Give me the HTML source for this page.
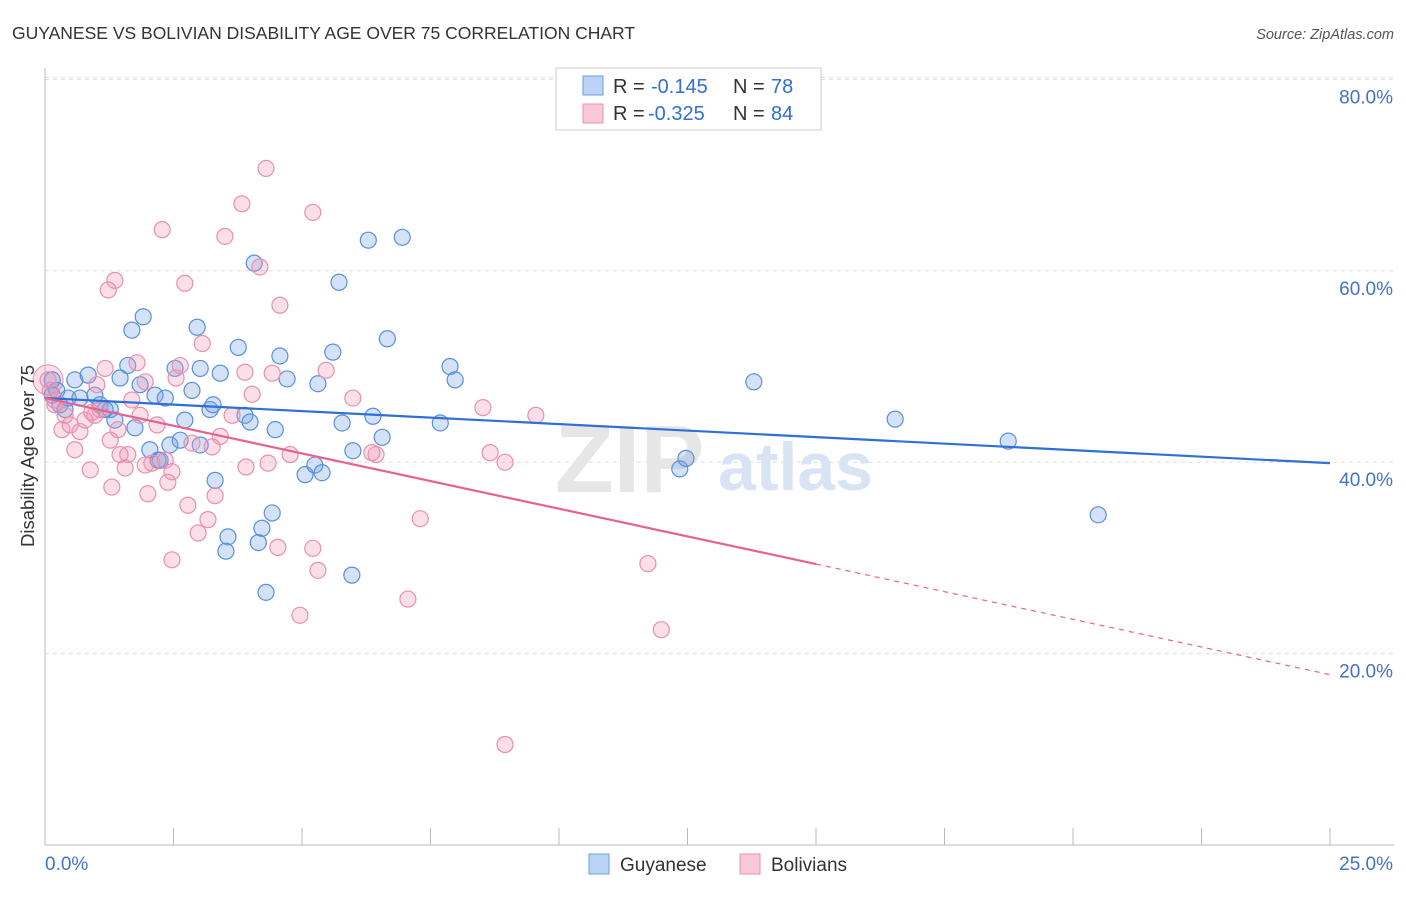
<!DOCTYPE html>
<html><head><meta charset="utf-8"><style>
body{margin:0;background:#fff;font-family:"Liberation Sans",sans-serif;}
svg text{font-family:"Liberation Sans",sans-serif;}
</style></head><body>
<svg id="chart" width="1406" height="892">
<text x="12" y="39" font-size="17.5" fill="#333">GUYANESE VS BOLIVIAN DISABILITY AGE OVER 75 CORRELATION CHART</text>
<text x="1394" y="39" font-size="14.5" fill="#555" font-style="italic" text-anchor="end">Source: ZipAtlas.com</text>
<g id="grid"></g>
<text x="555" y="492" font-size="96" fill="#e6e6e6" font-family="Liberation Serif" font-weight="bold">ZIP</text>
<text x="718" y="490" font-size="68" fill="#d8e4f4" font-weight="bold">atlas</text>
<g id="points"></g>
<g id="trends"></g>
<text transform="translate(34,456) rotate(-90)" font-size="18.5" fill="#333" text-anchor="middle">Disability Age Over 75</text>
<g>
<rect x="556" y="68" width="265" height="62" fill="#fff" stroke="#ccc"/>
<rect x="583" y="76" width="20" height="19" fill="#bcd3f5" stroke="#6a9de0"/>
<rect x="583" y="104" width="20" height="19" fill="#f8c8d8" stroke="#e890ad"/>
<text x="613" y="93" font-size="20" fill="#333">R =</text>
<text x="651" y="93" font-size="20" fill="#2f6fd6">-0.145</text>
<text x="733" y="93" font-size="20" fill="#333">N =</text>
<text x="771" y="93" font-size="20" fill="#2f6fd6">78</text>
<text x="613" y="120" font-size="20" fill="#333">R =</text>
<text x="648" y="120" font-size="20" fill="#2f6fd6">-0.325</text>
<text x="733" y="120" font-size="20" fill="#333">N =</text>
<text x="771" y="120" font-size="20" fill="#2f6fd6">84</text>
</g>
<g>
<rect x="589" y="854" width="20" height="20" fill="#bcd3f5" stroke="#6a9de0"/>
<text x="620" y="871" font-size="19" fill="#333">Guyanese</text>
<rect x="740" y="854" width="20" height="20" fill="#f8c8d8" stroke="#e890ad"/>
<text x="771" y="871" font-size="19" fill="#333">Bolivians</text>
</g>
</svg>
<script>
const yTicks=[20,40,60,80];
const yTickLabels=["20.0%","40.0%","60.0%","80.0%"];
const xTickLabels=["0.0%","25.0%"];
const guyX=[0.14,0.29,0.39,0.58,0.84,0.97,1.07,1.27,1.46,1.61,1.69,1.91,1.85,2.04,2.14,2.20,2.34,2.43,2.53,2.63,2.72,2.86,2.96,3.02,3.21,3.27,3.31,3.41,3.56,3.52,3.76,3.89,3.99,4.07,4.15,4.22,4.30,4.42,4.48,4.57,4.71,5.06,5.25,5.39,5.31,5.60,5.72,5.78,5.97,5.99,6.29,6.38,6.56,6.66,6.95,7.69,7.88,7.98,12.35,12.47,13.79,16.54,18.74,20.49,0.14,0.23,0.45,0.68,1.17,1.36,1.75,2.24,3.02];
const guyY=[47.0,46.0,45.5,48.6,49.1,47.0,46.0,45.5,48.8,50.1,53.8,55.2,48.1,41.3,47.0,40.2,46.7,41.8,49.8,42.3,44.4,47.5,54.1,49.8,45.5,46.0,38.1,49.3,32.2,30.7,52.0,44.9,44.2,60.8,31.6,33.1,26.4,34.7,43.4,51.1,48.7,38.7,39.7,38.9,48.2,51.5,58.8,44.1,28.2,41.2,63.2,44.8,42.6,52.9,63.5,44.1,50.0,48.6,39.3,40.4,48.4,44.5,42.2,34.5,48.6,47.5,46.7,46.7,45.5,44.4,43.6,40.2,41.8];
const bolX=[0.06,0.10,0.19,0.33,0.49,0.58,0.68,0.88,0.97,1.07,1.17,1.27,1.30,1.36,1.23,1.42,1.56,1.61,1.69,1.79,1.85,1.95,2.00,2.08,2.18,2.28,2.34,2.39,2.47,2.55,2.63,2.72,2.78,2.86,2.98,2.47,3.06,3.17,3.25,3.31,3.41,3.50,3.64,3.83,3.89,3.91,4.03,4.18,4.30,4.34,4.42,4.53,4.57,4.77,4.96,5.21,5.21,5.31,5.47,5.99,6.36,6.44,7.06,7.30,8.52,8.66,8.95,8.95,9.55,11.73,11.99,0.19,0.39,0.78,0.91,1.46,1.95,1.01];
const bolY=[48.6,47.5,46.5,43.4,43.9,41.3,43.2,39.2,44.9,45.5,49.8,42.3,37.4,59.0,58.0,43.4,39.4,40.8,46.5,50.4,44.9,48.4,36.7,39.9,43.9,64.3,40.2,37.9,39.0,48.8,50.1,58.7,35.5,42.0,32.6,29.8,52.4,34.0,41.6,36.5,42.7,63.6,44.9,67.0,49.4,39.5,47.1,60.4,70.7,39.9,49.3,31.1,56.4,40.8,24.0,66.1,31.0,28.7,49.6,46.7,41.0,40.8,25.7,34.1,45.7,41.0,40.0,10.5,44.9,29.4,22.5,46.0,44.9,44.4,45.2,40.8,39.7,48.1];
const guyTrend=[46.7,39.9];
const bolTrend=[46.7,17.8];
const bolSolidEnd=15;

const NS="http://www.w3.org/2000/svg";
const X=v=>45+v*(1285/25);
const Y=v=>845-v*9.57;
function mk(tag,attrs,parent){const e=document.createElementNS(NS,tag);for(const k in attrs)e.setAttribute(k,attrs[k]);parent.appendChild(e);return e;}
const grid=document.getElementById('grid');
yTicks.forEach((t,i)=>{
  const l=mk('line',{x1:45,x2:1394,y1:Y(t),y2:Y(t),stroke:'#ddd','stroke-dasharray':'4,4'},grid);
  
  
  const tx=mk('text',{x:1393,y:Y(t)+24,'font-size':19,fill:'#4472c4','text-anchor':'end'},grid);
  tx.textContent=yTickLabels[i];
  
  
});
const topLine=mk('line',{x1:45,x2:1394,y1:Y(80)-2,y2:Y(80)-2,stroke:'#ddd','stroke-dasharray':'4,4'},grid);


const ya=mk('line',{x1:45,x2:45,y1:68,y2:845,stroke:'#bbb'},grid);


const xa=mk('line',{x1:45,x2:1394,y1:845,y2:845,stroke:'#bbb'},grid);


for(let i=0;i<=10;i++){
  const t=mk('line',{x1:X(i*2.5),x2:X(i*2.5),y1:828,y2:845,stroke:'#bbb'},grid);
  
  
}
[[0,45,'start'],[25,1393,'end']].forEach((d,i)=>{
  const tx=mk('text',{x:d[1],y:870,'font-size':19,fill:'#4472c4','text-anchor':d[2]},grid);
  tx.textContent=xTickLabels[i];
  
  
});
const pts=document.getElementById('points');
const big1=mk('circle',{cx:X(0.06),cy:Y(48.6),r:15,fill:'rgba(240,150,180,0.3)',stroke:'#e890ad'},pts);


guyX.forEach((x,i)=>{
  const c=mk('circle',{cx:X(x),cy:Y(guyY[i]),r:8,fill:'rgba(110,160,230,0.3)',stroke:'#5a8fdc','stroke-width':1.2},pts);
  
  
});
bolX.forEach((x,i)=>{
  const c=mk('circle',{cx:X(x),cy:Y(bolY[i]),r:8,fill:'rgba(240,150,180,0.3)',stroke:'#e890ad','stroke-width':1.2},pts);
  
  
});
const tr=document.getElementById('trends');
const g1=mk('line',{x1:X(0),y1:Y(guyTrend[0]),x2:X(25),y2:Y(guyTrend[1]),stroke:'#2f6fd6','stroke-width':2.2},tr);


const bm=bolTrend[0]+(bolTrend[1]-bolTrend[0])*bolSolidEnd/25;
const b1=mk('line',{x1:X(0),y1:Y(bolTrend[0]),x2:X(bolSolidEnd),y2:Y(bm),stroke:'#e8628f','stroke-width':2.2},tr);


const b2=mk('line',{x1:X(bolSolidEnd),y1:Y(bm),x2:X(25),y2:Y(bolTrend[1]),stroke:'#e8628f','stroke-width':1.2,'stroke-dasharray':'5,5'},tr);


</script>
</body></html>
